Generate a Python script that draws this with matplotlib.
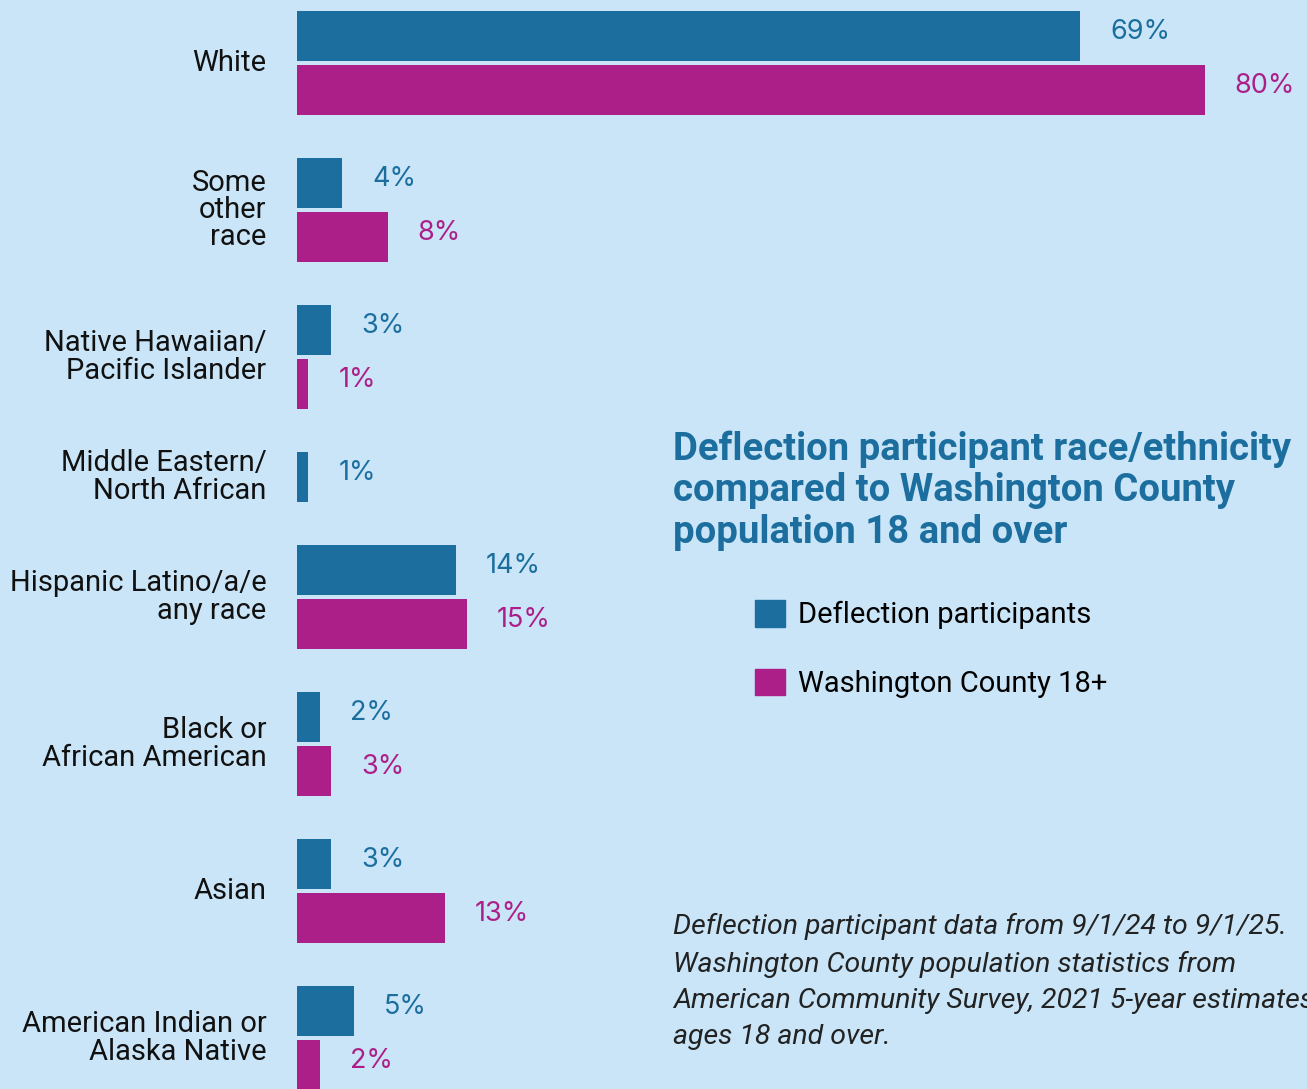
import matplotlib.pyplot as plt
from matplotlib.patches import Patch

# data
categories = ["White", "Some\nother\nrace", "Native Hawaiian/\nPacific Islander",
              "Middle Eastern/\nNorth African", "Hispanic Latino/a/e\nany race",
              "Black or\nAfrican American", "Asian", "American Indian or\nAlaska Native"]
participants = [69, 4, 3, 1, 14, 2, 3, 5]
county = [80, 8, 1, None, 15, 3, 13, 2]   # no county bar for Middle Eastern/North African

BG = "#c9e5f7"
BLUE = "#1b6e9e"
MAGENTA = "#ac1f88"
FONT = "Roboto"
PCT_FONT = "Inter"

W, H = 1307, 1089
fig = plt.figure(figsize=(W / 100, H / 100), dpi=100, facecolor=BG)
ax = fig.add_axes([297 / W, 0, 1 - 297 / W, 1])
ax.set_facecolor(BG)

# layout in pixel units: bar height 50, gap 4 between pair, 43 between groups
bar_h, pair_gap, group_gap = 50, 4, 43
y = 11
for cat, p, c in zip(categories, participants, county):
    yb = y + bar_h / 2
    ax.barh(yb, p, height=bar_h, color=BLUE)
    ax.annotate(f"{p}%", (p, yb - 4), xytext=(21.5, 0), textcoords="offset points",
                ha="left", va="center", fontsize=19.5, color=BLUE, family=PCT_FONT)
    bottom = y + bar_h
    if c is not None:
        ym = y + bar_h + pair_gap + bar_h / 2
        ax.barh(ym, c, height=bar_h, color=MAGENTA)
        ax.annotate(f"{c}%", (c, ym - 4), xytext=(21.5, 0), textcoords="offset points",
                    ha="left", va="center", fontsize=19.5, color=MAGENTA, family=PCT_FONT)
        bottom = ym + bar_h / 2
    center = (y + bottom) / 2
    ax.annotate(cat, (0, center), xycoords=("data", "data"), xytext=(-22, 0),
                textcoords="offset points", ha="right", va="center",
                fontsize=21, family=FONT, linespacing=0.97, color="#111111")
    y = bottom + group_gap

ax.set_xlim(0, (W - 297) / 11.35)
ax.set_ylim(H, 0)
ax.axis("off")

fig.text(673 / W, 1 - 431 / H,
         "Deflection participant race/ethnicity\ncompared to Washington County\npopulation 18 and over",
         ha="left", va="top", fontsize=27.5, fontweight="bold", color=BLUE,
         family=FONT, linespacing=1.14)

handles = [Patch(color=BLUE, label="Deflection participants"),
           Patch(color=MAGENTA, label="Washington County 18+")]
fig.legend(handles=handles, loc="upper left", bbox_to_anchor=(755 / W, 1 - 600 / H),
           frameon=False, prop={"family": FONT, "size": 21},
           handlelength=1.03, handleheight=1.03, handletextpad=0.45,
           labelspacing=1.35, borderpad=0, borderaxespad=0)

fig.text(673 / W, 1 - 913 / H,
         "Deflection participant data from 9/1/24 to 9/1/25.\n"
         "Washington County population statistics from\n"
         "American Community Survey, 2021 5-year estimates,\n"
         "ages 18 and over.",
         ha="left", va="top", fontsize=20.5, style="italic", color="#222222",
         family=FONT, linespacing=1.5)

fig.savefig("out.png", dpi=100, facecolor=BG)
